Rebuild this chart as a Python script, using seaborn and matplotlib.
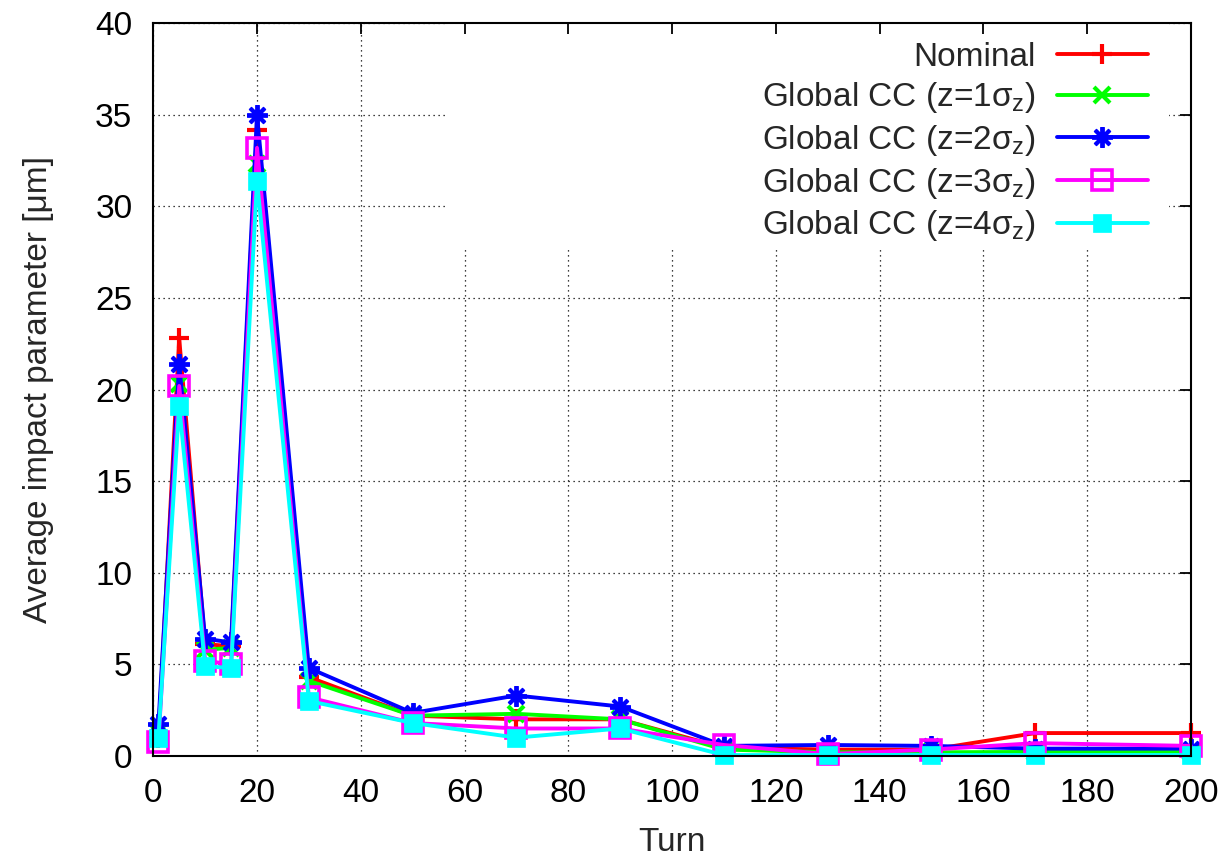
import numpy as np
import pandas as pd
import matplotlib
matplotlib.use("Agg")
import matplotlib.pyplot as plt
from matplotlib.path import Path
import seaborn as sns

# Turn numbers at which the impact parameter was sampled
turns = [1, 5, 10, 15, 20, 30, 50, 70, 90, 110, 130, 150, 170, 200]

# Average impact parameter [um] for each configuration
nominal = [1.0, 22.8, 6.1, 6.0, 34.2, 4.3, 2.2, 2.0, 2.0, 0.45, 0.35, 0.35, 1.25, 1.25]
cc_z1 = [1.3, 20.3, 5.8, 5.9, 32.3, 4.1, 2.2, 2.3, 2.0, 0.35, 0.2, 0.2, 0.22, 0.22]
cc_z2 = [1.75, 21.4, 6.4, 6.2, 35.0, 4.8, 2.35, 3.3, 2.7, 0.55, 0.6, 0.55, 0.4, 0.4]
cc_z3 = [0.75, 20.2, 5.2, 5.0, 33.2, 3.2, 1.8, 1.5, 1.5, 0.6, 0.1, 0.35, 0.7, 0.55]
cc_z4 = [1.0, 19.1, 4.9, 4.8, 31.4, 3.0, 1.8, 1.0, 1.5, 0.05, 0.05, 0.05, 0.05, 0.05]

labels = [
    "Nominal",
    "Global CC (z=1σ$_{\\rm z}$)",
    "Global CC (z=2σ$_{\\rm z}$)",
    "Global CC (z=3σ$_{\\rm z}$)",
    "Global CC (z=4σ$_{\\rm z}$)",
]
series = [nominal, cc_z1, cc_z2, cc_z3, cc_z4]

xticks = list(range(0, 201, 20))
yticks = list(range(0, 41, 5))

FS = 24

sns.set_style("white")
plt.rcParams["font.family"] = ["Liberation Sans", "DejaVu Sans"]
plt.rcParams["mathtext.fontset"] = "custom"
plt.rcParams["mathtext.rm"] = "Liberation Sans"
plt.rcParams["mathtext.it"] = "Liberation Sans"

df = pd.DataFrame({"turn": np.tile(turns, len(series)),
                   "value": np.concatenate(series),
                   "config": np.repeat(labels, len(turns))})

styles = [
    dict(color="#ff0000", marker="+", markersize=15, markeredgewidth=3.0, fillstyle="full"),
    dict(color="#00ff00", marker="x", markersize=12, markeredgewidth=3.0, fillstyle="full"),
    dict(color="#0000ff", marker=(8, 2, 0), markersize=15, markeredgewidth=2.8, fillstyle="full"),
    dict(color="#ff00ff", marker="s", markersize=14, markeredgewidth=2.6, fillstyle="none"),
    dict(color="#00ffff", marker="s", markersize=12.5, markeredgewidth=0.5, fillstyle="full"),
]

fig = plt.figure(figsize=(12.29, 8.57), dpi=100)
ax = fig.add_axes([0.1247, 0.1179, 0.8442, 0.8549])

handles = []
for lab, st in zip(labels, styles):
    sub = df[df["config"] == lab]
    sns.lineplot(data=sub, x="turn", y="value", ax=ax, linewidth=2.8,
                 markeredgecolor=st["color"], clip_on=False, label=lab,
                 legend=False, **st)
    handles.append(ax.get_lines()[-1])

ax.set_xlim(0, 200)
ax.set_ylim(0, 40)
ax.set_xticks(xticks)
ax.set_yticks(yticks)
ax.tick_params(direction="in", length=8, width=1.3, top=True, right=True,
               labelsize=FS, colors="black")
ax.tick_params(axis="x", pad=16)
ax.tick_params(axis="y", pad=15)
for s in ax.spines.values():
    s.set_visible(True)
    s.set_color("black")
    s.set_linewidth(1.5)

ax.set_xlabel("Turn", fontsize=FS, labelpad=13)
ax.set_ylabel("Average impact parameter [μm]", fontsize=FS, labelpad=30)

# dotted grid, kept out of the key area
ax.grid(True, color="black", linestyle=(0, (1, 3)), linewidth=0.9)
kx0, kx1, ky0 = 0.284, 0.979, 0.695
outer = [(0, 0), (1, 0), (1, 1), (0, 1), (0, 0)]
hole = [(kx0, ky0), (kx0, 1.01), (kx1, 1.01), (kx1, ky0), (kx0, ky0)]
codes = [Path.MOVETO] + [Path.LINETO] * 3 + [Path.CLOSEPOLY]
clip = Path(outer + hole, codes + codes)
for gl in ax.xaxis.get_gridlines() + ax.yaxis.get_gridlines():
    gl.set_clip_path(clip, ax.transAxes)

leg = ax.legend(handles, labels, loc="upper right", bbox_to_anchor=(0.959, 0.975),
                frameon=False, fontsize=FS, markerfirst=False, handlelength=2.75,
                handletextpad=0.62, labelspacing=0.23, borderaxespad=0, borderpad=0)

fig.savefig("out.png", dpi=100)
